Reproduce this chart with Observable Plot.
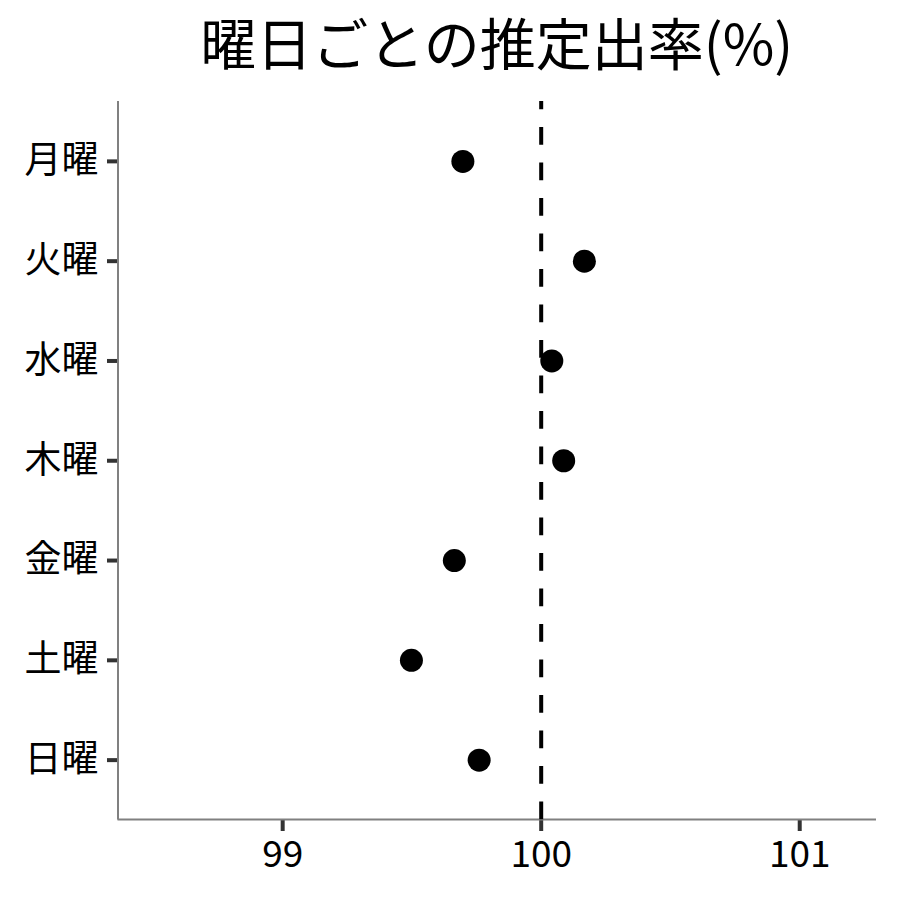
<!DOCTYPE html>
<html>
<head>
<meta charset="utf-8">
<script src="https://cdn.jsdelivr.net/npm/d3@7"></script>
<script src="https://cdn.jsdelivr.net/npm/@observablehq/plot@0.6"></script>
<style>
  html, body { margin: 0; padding: 0; background: #fff; }
  #wrap { width: 900px; }
  #title {
    box-sizing: border-box;
    height: 90px;
    line-height: 82px;
    padding-left: 117.5px;
    padding-right: 24px;
    text-align: center;
    font-family: "Noto Sans CJK JP", sans-serif;
    font-size: 56px;
    color: #000;
    white-space: nowrap;
  }
  #chart g[aria-label="x-axis tick"] path,
  #chart g[aria-label="y-axis tick"] path { stroke-width: 4px; stroke: #333; }
</style>
</head>
<body>
<div id="wrap">
  <div id="title">曜日ごとの推定出率(%)</div>
  <div id="chart"></div>
</div>
<script>
const days = ["月曜", "火曜", "水曜", "木曜", "金曜", "土曜", "日曜"];
const rates = [99.697, 100.167, 100.041, 100.087, 99.664, 99.498, 99.760];
const xTicks = [99, 100, 101];
const xDomain = [98.363, 101.297];
const refValue = 100;

const data = days.map((d, i) => ({day: d, rate: rates[i]}));

const bottomLine = (index, scales, values, dims) => {
  const y = dims.height - dims.marginBottom;
  const line = d3.create("svg:line")
    .attr("x1", scales.x(xDomain[0]))
    .attr("x2", scales.x(xDomain[1]))
    .attr("y1", y)
    .attr("y2", y)
    .attr("stroke", "#808080")
    .attr("stroke-width", 2);
  return line.node();
};

const chart = Plot.plot({
  width: 900,
  height: 810,
  marginTop: 11,
  marginBottom: 80.5,
  marginLeft: 117.5,
  marginRight: 24,
  style: {fontFamily: "'Noto Sans CJK JP', sans-serif", color: "#000", background: "#fff"},
  x: {domain: xDomain, ticks: xTicks},
  y: {type: "point", domain: days, padding: 0.6, round: false},
  marks: [
    Plot.axisX({ticks: xTicks, tickSize: 11.5, tickPadding: 9, fontSize: 37, stroke: "#333", strokeWidth: 4, fill: "#000", label: null, tickFormat: d => String(d)}),
    Plot.axisY({tickSize: 10.5, tickPadding: 9, fontSize: 37, stroke: "#333", strokeWidth: 4, fill: "#000", label: null}),
    Plot.ruleX([xDomain[0]], {stroke: "#808080", strokeWidth: 2}),
    bottomLine,
    Plot.ruleX([refValue], {stroke: "#000", strokeWidth: 4, strokeDasharray: "17.75,17.75", strokeDashoffset: 9.5}),
    Plot.dot(data, {x: "rate", y: "day", r: 11.5, fill: "#000", stroke: "none"})
  ]
});
document.getElementById("chart").appendChild(chart);
</script>
</body>
</html>
